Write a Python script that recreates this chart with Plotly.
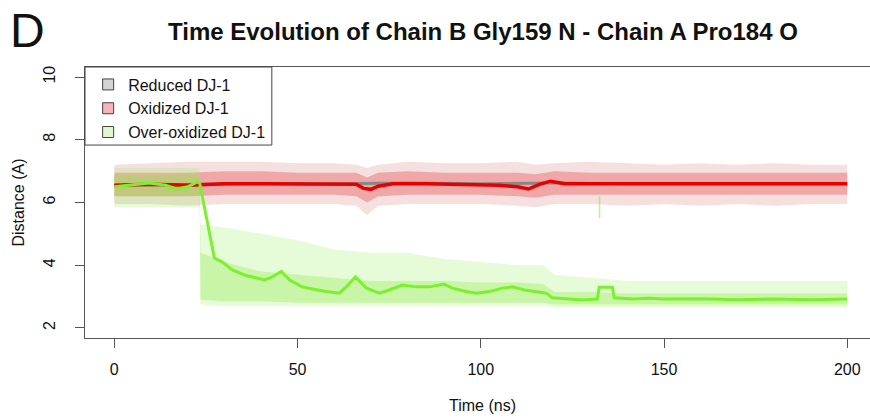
import plotly.graph_objects as go

# ---------------- data ----------------
x_ticks = [0, 50, 100, 150, 200]
y_ticks = [2, 4, 6, 8, 10]

# smoothed curves
red_t = [0, 10, 20, 30, 40, 50, 60, 66, 68, 70, 72, 76, 85, 95, 105, 110, 113, 116, 119, 123,
         130, 140, 150, 160, 170, 180, 190, 200]
red_v = [6.55, 6.58, 6.55, 6.6, 6.6, 6.6, 6.6, 6.58, 6.45, 6.42, 6.52, 6.6, 6.6, 6.58, 6.55, 6.5,
         6.43, 6.58, 6.68, 6.6, 6.6, 6.58, 6.6, 6.6, 6.6, 6.58, 6.58, 6.6]

gray_t = [0, 20, 40, 60, 80, 100, 120, 140, 160, 180, 200]
gray_v = [6.55, 6.58, 6.6, 6.6, 6.62, 6.6, 6.62, 6.6, 6.6, 6.58, 6.6]

green_t = [0, 4, 9.5, 14, 17, 20, 22.5, 23.3, 27.3, 29.5, 32.2, 35.5, 37.7, 41, 43, 45.6, 47.8,
           51.3, 54, 57.8, 61.4, 63.3, 65.8, 68.8, 72.3, 75, 78.6, 82.4, 86, 90, 92.2, 96, 98.8,
           102.3, 105.9, 108.6, 111.9, 115.1, 117.9, 119.5, 123.3, 127.7, 131.8, 132.3, 135.9,
           136.4, 141.3, 146, 150, 160, 170, 180, 190, 200]
green_v = [6.5, 6.56, 6.62, 6.55, 6.43, 6.5, 6.65, 6.62, 4.23, 4.1, 3.85, 3.69, 3.63, 3.53, 3.62,
           3.8, 3.53, 3.31, 3.24, 3.16, 3.11, 3.31, 3.63, 3.27, 3.11, 3.21, 3.37, 3.31, 3.31, 3.40,
           3.27, 3.16, 3.11, 3.16, 3.27, 3.31, 3.21, 3.16, 3.11, 2.96, 2.92, 2.89, 2.92, 3.30,
           3.30, 2.96, 2.92, 2.95, 2.92, 2.93, 2.90, 2.92, 2.90, 2.92]

# raw-point clouds, summarised as envelopes (outer = sparse, inner = dense)
rg_t = [0, 10, 20, 30, 40, 50, 60, 66, 69, 72, 80, 90, 100, 110, 115, 120, 130, 140, 150, 160,
        170, 180, 190, 200]
rg_outer_hi = [7.2, 7.25, 7.3, 7.3, 7.3, 7.25, 7.25, 7.2, 7.1, 7.2, 7.3, 7.25, 7.25, 7.3, 7.2,
               7.25, 7.3, 7.25, 7.2, 7.25, 7.2, 7.25, 7.2, 7.2]
rg_outer_lo = [5.95, 5.95, 5.9, 5.95, 5.95, 5.95, 5.95, 5.9, 5.6, 5.9, 5.95, 5.95, 5.95, 5.9,
               5.85, 5.95, 5.95, 5.9, 5.95, 5.9, 5.95, 5.9, 5.95, 5.95]
rg_inner_hi = [6.95, 6.95, 6.95, 7.0, 7.0, 6.95, 6.95, 6.95, 6.8, 6.95, 7.0, 6.95, 6.95, 6.95,
               6.9, 7.0, 6.95, 6.95, 6.95, 6.95, 6.95, 6.95, 6.95, 6.95]
rg_inner_lo = [6.2, 6.2, 6.2, 6.25, 6.25, 6.25, 6.25, 6.2, 6.0, 6.2, 6.25, 6.25, 6.25, 6.2,
               6.15, 6.25, 6.25, 6.25, 6.25, 6.25, 6.25, 6.25, 6.25, 6.25]

gr_t = [0, 10, 23.3, 23.5, 30, 40, 50, 60, 70, 80, 90, 100, 110, 117, 120, 130, 140, 150, 160,
        170, 180, 190, 200]
gr_outer_hi = [7.1, 7.1, 7.1, 5.3, 5.2, 5.0, 4.8, 4.5, 4.4, 4.4, 4.2, 4.1, 4.0, 4.0, 3.7, 3.6,
               3.5, 3.5, 3.5, 3.5, 3.5, 3.5, 3.5]
gr_outer_lo = [5.85, 5.85, 5.85, 2.75, 2.7, 2.7, 2.7, 2.7, 2.7, 2.7, 2.7, 2.7, 2.7, 2.7, 2.65,
               2.65, 2.65, 2.65, 2.65, 2.65, 2.65, 2.65, 2.65]
gr_inner_hi = [6.85, 6.85, 6.9, 4.4, 4.1, 3.8, 3.7, 3.6, 3.5, 3.5, 3.5, 3.45, 3.45, 3.4, 3.15,
               3.15, 3.1, 3.1, 3.1, 3.1, 3.1, 3.1, 3.1]
gr_inner_lo = [6.2, 6.2, 6.2, 2.9, 2.85, 2.85, 2.8, 2.8, 2.8, 2.8, 2.8, 2.8, 2.8, 2.8, 2.75,
               2.75, 2.75, 2.75, 2.75, 2.75, 2.75, 2.75, 2.75]

spike_t = [132.4, 132.4]
spike_v = [5.5, 6.2]

legend_names = ["Reduced DJ-1", "Oxidized DJ-1", "Over-oxidized DJ-1"]
legend_fill = ["#d4d4d4", "#f5b5b8", "#e0f8cf"]

FONT = "Liberation Sans, Arial, sans-serif"


def band(t, hi, lo, color):
    return go.Scatter(x=list(t) + list(t)[::-1], y=list(hi) + list(lo)[::-1],
                      fill="toself", fillcolor=color, mode="lines",
                      line=dict(width=0), showlegend=False, hoverinfo="skip")


fig = go.Figure()
# point clouds
fig.add_trace(band(rg_t, rg_outer_hi, rg_outer_lo, "rgba(215,120,120,0.24)"))
fig.add_trace(band(rg_t, rg_inner_hi, rg_inner_lo, "rgba(225,40,40,0.30)"))
fig.add_trace(band(gr_t, gr_outer_hi, gr_outer_lo, "rgba(160,240,100,0.26)"))
fig.add_trace(band(gr_t, gr_inner_hi, gr_inner_lo, "rgba(140,235,70,0.33)"))
fig.add_trace(go.Scatter(x=spike_t, y=spike_v, mode="lines",
                         line=dict(color="rgba(140,235,70,0.6)", width=1.5),
                         showlegend=False, hoverinfo="skip"))
# smoothed lines
fig.add_trace(go.Scatter(x=gray_t, y=gray_v, mode="lines", line=dict(color="#888888", width=3),
                         showlegend=False))
fig.add_trace(go.Scatter(x=red_t, y=red_v, mode="lines", line=dict(color="#e60000", width=3.5),
                         showlegend=False))
fig.add_trace(go.Scatter(x=green_t, y=green_v, mode="lines",
                         line=dict(color="rgb(125,240,45)", width=3), showlegend=False))
# legend entries
for name, col in zip(legend_names, legend_fill):
    fig.add_trace(go.Scatter(x=[None], y=[None], mode="markers", name=name,
                             marker=dict(symbol="square", size=11, color=col,
                                         line=dict(color="#444444", width=1))))

axis_common = dict(showgrid=False, zeroline=False, showline=True, linecolor="#555555",
                   linewidth=1, ticks="outside", ticklen=9, tickcolor="#555555", tickwidth=1,
                   tickfont=dict(family=FONT, size=16, color="#111111"))

fig.update_xaxes(range=[-8, 206.2], tickvals=x_ticks, mirror=True, ticklabelstandoff=8,
                 **axis_common)
fig.update_yaxes(range=[1.68, 10.32], tickvals=y_ticks, mirror=False, tickangle=-90,
                 ticklabelstandoff=14, **axis_common)

fig.update_layout(
    width=870, height=419,
    margin=dict(l=85, r=0, t=67, b=81),
    plot_bgcolor="white", paper_bgcolor="white",
    font=dict(family=FONT, color="#111111"),
    legend=dict(x=0.004, y=0.998, xanchor="left", yanchor="top",
                bgcolor="rgba(0,0,0,0)", borderwidth=0,
                font=dict(family=FONT, size=16, color="#111111"), tracegroupgap=0),
    shapes=[dict(type="rect", xref="paper", yref="paper", x0=0, x1=0.238, y0=0.712, y1=1,
                 line=dict(color="#444444", width=1), fillcolor="rgba(255,255,255,1)",
                 layer="above")],
    annotations=[
        dict(text="<b>Time Evolution of Chain B Gly159 N - Chain A Pro184 O</b>",
             xref="paper", yref="paper", x=(483 - 85) / 785, y=1 + 36 / 271, xanchor="center",
             yanchor="middle", showarrow=False, font=dict(family=FONT, size=24)),
        dict(text="D", xref="paper", yref="paper", x=-85 / 785 + 28 / 785, y=1 + 37 / 271,
             xanchor="center", yanchor="middle", showarrow=False,
             font=dict(family=FONT, size=48)),
        dict(text="Distance (A)", xref="paper", yref="paper", x=-67 / 785, y=0.5,
             xanchor="center", yanchor="middle", textangle=-90, showarrow=False,
             font=dict(family=FONT, size=16)),
        dict(text="Time (ns)", xref="paper", yref="paper", x=(482 - 85) / 785, y=-67 / 271,
             xanchor="center", yanchor="middle", showarrow=False,
             font=dict(family=FONT, size=16)),
    ],
)

fig.write_html("out.html")
